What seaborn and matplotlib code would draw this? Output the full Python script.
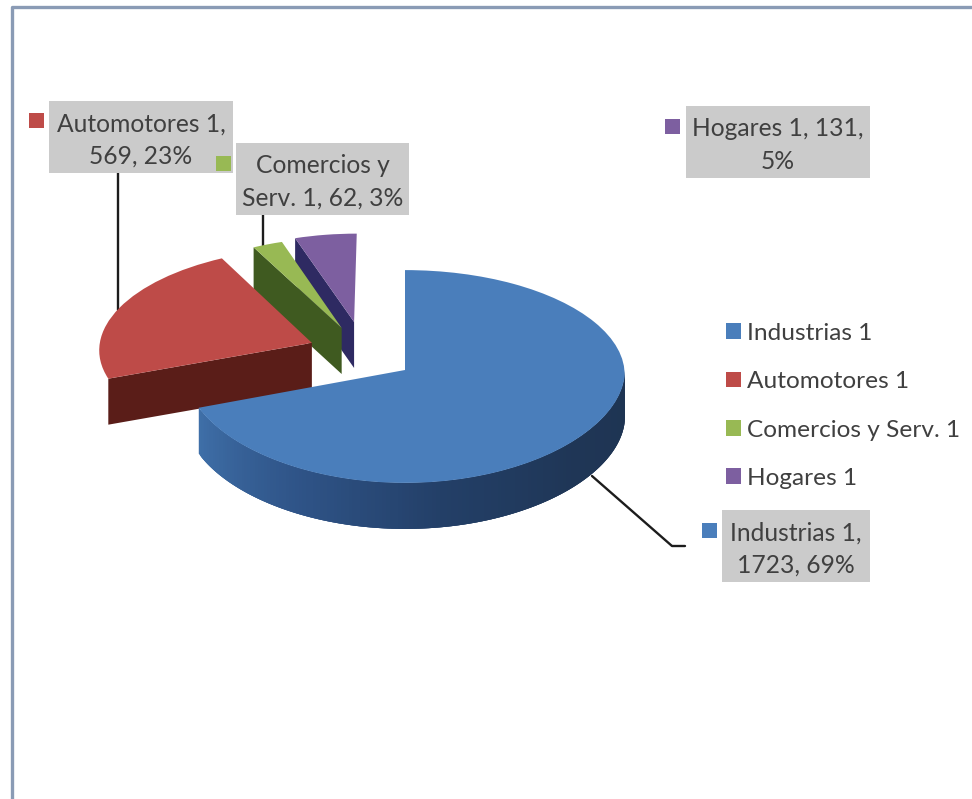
import numpy as np
import matplotlib
matplotlib.use("Agg")
import matplotlib.pyplot as plt
import matplotlib.transforms as mtrans
from matplotlib.patches import Rectangle
import seaborn as sns

# datos del grafico
categorias = ['Industrias 1', 'Automotores 1', 'Comercios y Serv. 1', 'Hogares 1']
valores = [1723, 569, 62, 131]
etiquetas = ['Industrias 1,\n1723, 69%', 'Automotores 1,\n569, 23%',
             'Comercios y\nServ. 1, 62, 3%', 'Hogares 1, 131,\n5%']

# estilos
colores_top = ['#4a7ebb', '#be4b48', '#98b954', '#7d5fa0']
colores_lado = ['#1f3656', '#5a1d18', '#3f5a20', '#2e2a62']
desplazamiento = [(0, 0), (-0.43, 0.26), (-0.295, 0.406), (-0.238, 0.466)]
radios = [1.0, 0.98, 0.95, 0.93]
orden = [8, 6, 4, 2]
cajas = [(722, 510, 148, 72), (49, 101, 184, 72), (236, 143, 173, 72), (686, 106, 184, 72)]
marcas = [(702, 523), (29, 113), (216, 156), (665, 119)]
CX, CY, RX, RY, PERSP, GROSOR = 405, 370, 220, 106, 0.061, 46
TEXTO = '#404040'

sns.set_theme(style="white")
plt.rcParams['font.family'] = ['Lato', 'DejaVu Sans']


def proyectar(u, v):
    s = 1 / (1 + PERSP * v)
    # hacia delante el original casi no ensancha en x
    sx = np.minimum(s, 1)
    return CX + RX * u * sx, CY - RY * v * s


# perspectiva para que los sectores de ax.pie queden como en el original
class Perspectiva(mtrans.Transform):
    input_dims = 2
    output_dims = 2

    def __init__(self, ou, ov):
        super().__init__()
        self.ou, self.ov = ou, ov

    def transform_non_affine(self, xy):
        xy = np.asarray(xy)
        x, y = proyectar(xy[:, 0] + self.ou, xy[:, 1] + self.ov)
        return np.column_stack([x, y])


fig = plt.figure(figsize=(9.72, 7.99), dpi=100)
ax = fig.add_axes([0, 0, 1, 1])
wedges, _ = ax.pie(valores, colors=sns.color_palette(colores_top), startangle=90,
                   counterclock=False, wedgeprops={'linewidth': 0})
ax.set_aspect('auto')
ax.set_xlim(0, 972)
ax.set_ylim(799, 0)
ax.axis('off')

for w, (ou, ov), r, z in zip(wedges, desplazamiento, radios, orden):
    w.set_radius(r)
    w.set_zorder(z + 1)
    w.set_transform(Perspectiva(ou, ov) + ax.transData)

# caras de corte de los sectores separados
for i in (1, 2, 3):
    w = wedges[i]
    ou, ov = desplazamiento[i]
    t = np.radians(w.theta2)
    x0, y0 = proyectar(ou, ov)
    x1, y1 = proyectar(ou + radios[i] * np.cos(t), ov + radios[i] * np.sin(t))
    ax.fill([x0, x1, x1, x0], [y0, y1, y1 + GROSOR, y0 + GROSOR],
            color=colores_lado[i], lw=0, zorder=orden[i])

# lateral del sector azul con degradado, tiras solapadas para que no se vean cortes
angulos = np.linspace(wedges[0].theta1, 0, 161)
tonos = sns.blend_palette(['#3f6fa8', '#2f5488', '#233f67', '#1f3656', '#1e3452'], len(angulos) - 1)
for n, c in enumerate(tonos):
    a = np.radians(angulos[n:n + 4])
    xs, ys = proyectar(np.cos(a), np.sin(a))
    ax.fill(np.r_[xs, xs[::-1]], np.r_[ys, ys[::-1] + GROSOR], color=c, lw=0, zorder=orden[0])

# lineas guia
linea = {'color': '#1c1c1c', 'lw': 1.7, 'zorder': 0.5, 'solid_capstyle': 'round'}
ax.plot([118, 118], [173, 310], **linea)
ax.plot([263, 263], [215, 246], **linea)
ax.plot([592, 672, 685], [476, 546, 546], **linea)

# borde del area
ax.plot([11.5, 11.5, 972], [799, 6.5, 6.5], color='#8a9bb5', lw=2.4, zorder=0.2)

# rotulos de datos
for (x, y, w, h), etiqueta, (mx, my), color in zip(cajas, etiquetas, marcas, colores_top):
    ax.add_patch(Rectangle((x, y), w, h, facecolor='#cbcbcb', edgecolor='none', zorder=10))
    ax.text(x + w / 2, y + h / 2 + 3, etiqueta, ha='center', va='center', fontsize=17.7,
            color=TEXTO, linespacing=1.5, zorder=11)
    ax.add_patch(Rectangle((mx, my), 15, 15, facecolor=color, edgecolor='none', zorder=12))

# leyenda
ley = ax.legend(wedges, categorias, loc='upper left', bbox_to_anchor=(716, 313),
                bbox_transform=ax.transData, frameon=False, fontsize=17.6, labelcolor=TEXTO,
                handlelength=0.61, handleheight=0.61, handletextpad=0.25, labelspacing=1.12,
                borderpad=0.4, borderaxespad=0)

fig.savefig('out.png', dpi=100)
